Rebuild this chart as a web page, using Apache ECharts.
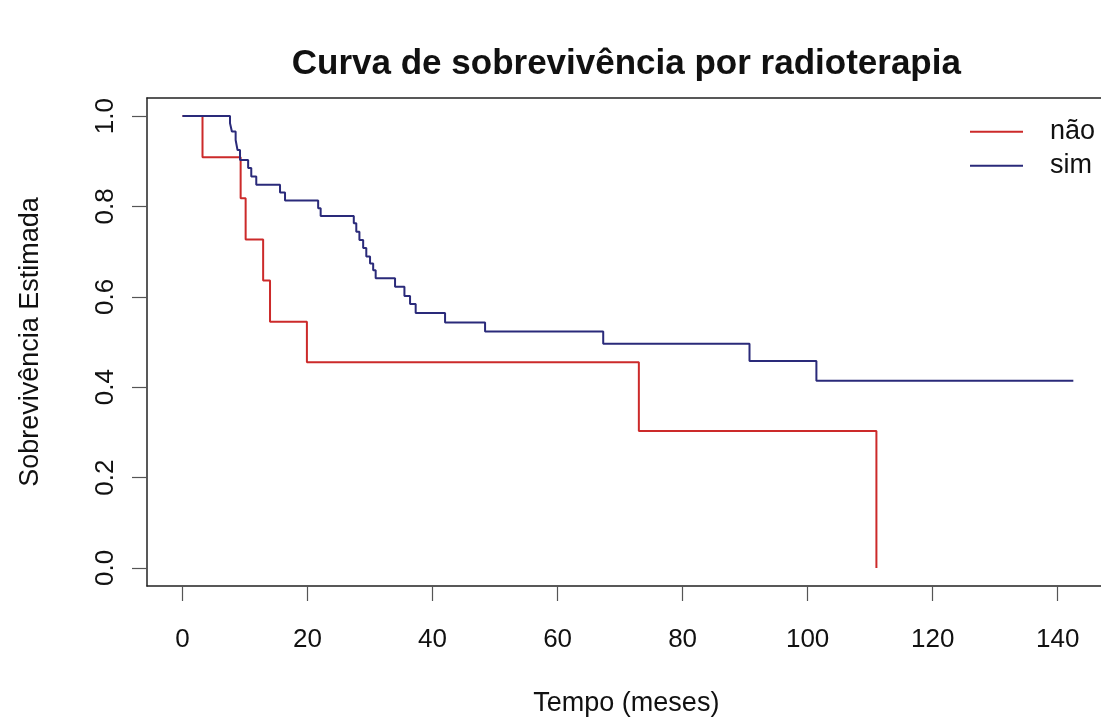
<!DOCTYPE html>
<html>
<head>
<meta charset="utf-8">
<script src="https://cdn.jsdelivr.net/npm/echarts@6/dist/echarts.min.js"></script>
<style>
html,body{margin:0;padding:0;background:#fff;}
#chart{width:1101px;height:722px;}
</style>
</head>
<body>
<div id="chart"></div>
<script>
// Kaplan-Meier data (time in months, estimated survival)
const naoTime = [0, 3.2, 9.3, 10.1, 12.9, 14.0, 19.9, 73.0, 111.0];
const naoSurv = [1, 0.909, 0.818, 0.727, 0.636, 0.545, 0.455, 0.303, 0];
const simTime = [0, 7.6, 7.9, 8.5, 8.8, 9.2, 10.5, 11.0, 11.8, 15.6, 16.4, 21.7, 22.1, 27.4, 27.8, 28.3, 28.9, 29.4, 30.0, 30.5, 30.9, 34.0, 35.5, 36.4, 37.3, 42.0, 48.4, 67.3, 90.7, 101.4, 142.5];
const simSurv = [1, 0.984, 0.966, 0.947, 0.925, 0.903, 0.885, 0.866, 0.848, 0.831, 0.813, 0.796, 0.779, 0.763, 0.744, 0.726, 0.708, 0.689, 0.674, 0.659, 0.641, 0.622, 0.602, 0.584, 0.564, 0.543, 0.523, 0.496, 0.458, 0.414, 0.414];
const seriesNames = ['não', 'sim'];
const xTicks = [0, 140, 20];   // min, max, interval
const yTicks = [0, 1, 0.2];
const titleText = 'Curva de sobrevivência por radioterapia';
const xTitle = 'Tempo (meses)';
const yTitle = 'Sobrevivência Estimada';

const FONT = '"Liberation Sans", Arial, sans-serif';
const zip = (a, b) => a.map((v, i) => [v, b[i]]);

// Plot box: left 147, top 98, bottom 586; the right side runs off the picture.
const BOX = {left: 147, top: 98, width: 954, height: 488};
const X0 = 182.5, X140 = 1057.7;           // pixel of x=0 and x=140
const pxu = (X140 - X0) / 140;             // pixels per month
const xMin = -(X0 - BOX.left) / pxu;
const xMax = xMin + BOX.width / pxu;
const yMin = -0.04, yMax = 1.04;
const py = v => BOX.top + (yMax - v) / (yMax - yMin) * BOX.height;
const FULLW = 958.7;                       // full R plot region width (centre for titles)
const CX = BOX.left + FULLW / 2;

const hidden = {axisLine: {show: false}, axisTick: {show: false}, axisLabel: {show: false}, splitLine: {show: false}};
const boxLine = {show: true, onZero: false, lineStyle: {color: '#222', width: 1.5}};
const tickStyle = {show: true, inside: false, length: 15, lineStyle: {color: '#555', width: 1.2}};

const chart = echarts.init(document.getElementById('chart'), null, {renderer: 'canvas'});
chart.setOption({
  animation: false,
  backgroundColor: '#ffffff',
  title: {
    text: titleText, left: CX, textAlign: 'center', top: 47, padding: 0,
    textStyle: {fontFamily: FONT, fontSize: 35, fontWeight: 'bold', color: '#111'}
  },
  legend: {
    orient: 'vertical', left: 970, top: 114.7, itemGap: 0, padding: 0,
    itemWidth: 53, itemHeight: 2, icon: 'rect',
    data: seriesNames,
    textStyle: {fontFamily: FONT, fontSize: 27, color: '#111', lineHeight: 34, padding: [0, 0, 0, 22]}
  },
  grid: [
    {left: BOX.left, top: BOX.top, width: BOX.width, height: BOX.height, show: false},
    {left: X0, top: BOX.top, width: X140 - X0, height: BOX.height, show: false},
    {left: BOX.left, top: py(yTicks[1]), width: BOX.width, height: py(yTicks[0]) - py(yTicks[1]), show: false},
    // invisible region used only to centre the x title on the plot region like R does
    {left: CX - 470, top: BOX.top, width: 940, height: BOX.height, show: false}
  ],
  xAxis: [
    {type: 'value', gridIndex: 0, min: xMin, max: xMax, position: 'bottom',
     axisLine: boxLine, axisTick: {show: false}, axisLabel: {show: false}, splitLine: {show: false}},
    {type: 'value', gridIndex: 1, min: xTicks[0], max: xTicks[1], interval: xTicks[2], position: 'bottom',
     axisLine: {show: false, onZero: false}, axisTick: tickStyle, splitLine: {show: false},
     axisLabel: {fontFamily: FONT, fontSize: 26, color: '#111', margin: 41}},
    Object.assign({type: 'value', gridIndex: 2, min: 0, max: 1}, hidden),
    {type: 'value', gridIndex: 0, min: xMin, max: xMax, position: 'top',
     axisLine: boxLine, axisTick: {show: false}, axisLabel: {show: false}, splitLine: {show: false}},
    Object.assign({type: 'value', gridIndex: 3, min: 0, max: 1, position: 'bottom',
     name: xTitle, nameLocation: 'middle', nameGap: 112,
     nameTextStyle: {fontFamily: FONT, fontSize: 27, color: '#111'}}, hidden)
  ],
  yAxis: [
    {type: 'value', gridIndex: 0, min: yMin, max: yMax, position: 'left',
     axisLine: boxLine, axisTick: {show: false}, axisLabel: {show: false}, splitLine: {show: false},
     name: yTitle, nameLocation: 'middle', nameGap: 103,
     nameTextStyle: {fontFamily: FONT, fontSize: 27, color: '#111'}},
    Object.assign({type: 'value', gridIndex: 1, min: 0, max: 1}, hidden),
    {type: 'value', gridIndex: 2, min: yTicks[0], max: yTicks[1], interval: yTicks[2], position: 'left',
     axisLine: {show: false, onZero: false}, axisTick: tickStyle, splitLine: {show: false},
     axisLabel: {fontFamily: FONT, fontSize: 26, color: '#111', rotate: 90, margin: 28,
                 formatter: v => v.toFixed(1)}},
    Object.assign({type: 'value', gridIndex: 3, min: 0, max: 1}, hidden)
  ],
  series: [
    {name: seriesNames[0], type: 'line', step: 'end', xAxisIndex: 0, yAxisIndex: 0,
     showSymbol: false, symbol: 'none', data: zip(naoTime, naoSurv),
     itemStyle: {color: '#cc2a2a'}, lineStyle: {color: '#cc2a2a', width: 2}},
    {name: seriesNames[1], type: 'line', step: 'end', xAxisIndex: 0, yAxisIndex: 0,
     showSymbol: false, symbol: 'none', data: zip(simTime, simSurv),
     itemStyle: {color: '#2a2a7a'}, lineStyle: {color: '#2a2a7a', width: 2}}
  ]
});
</script>
</body>
</html>
